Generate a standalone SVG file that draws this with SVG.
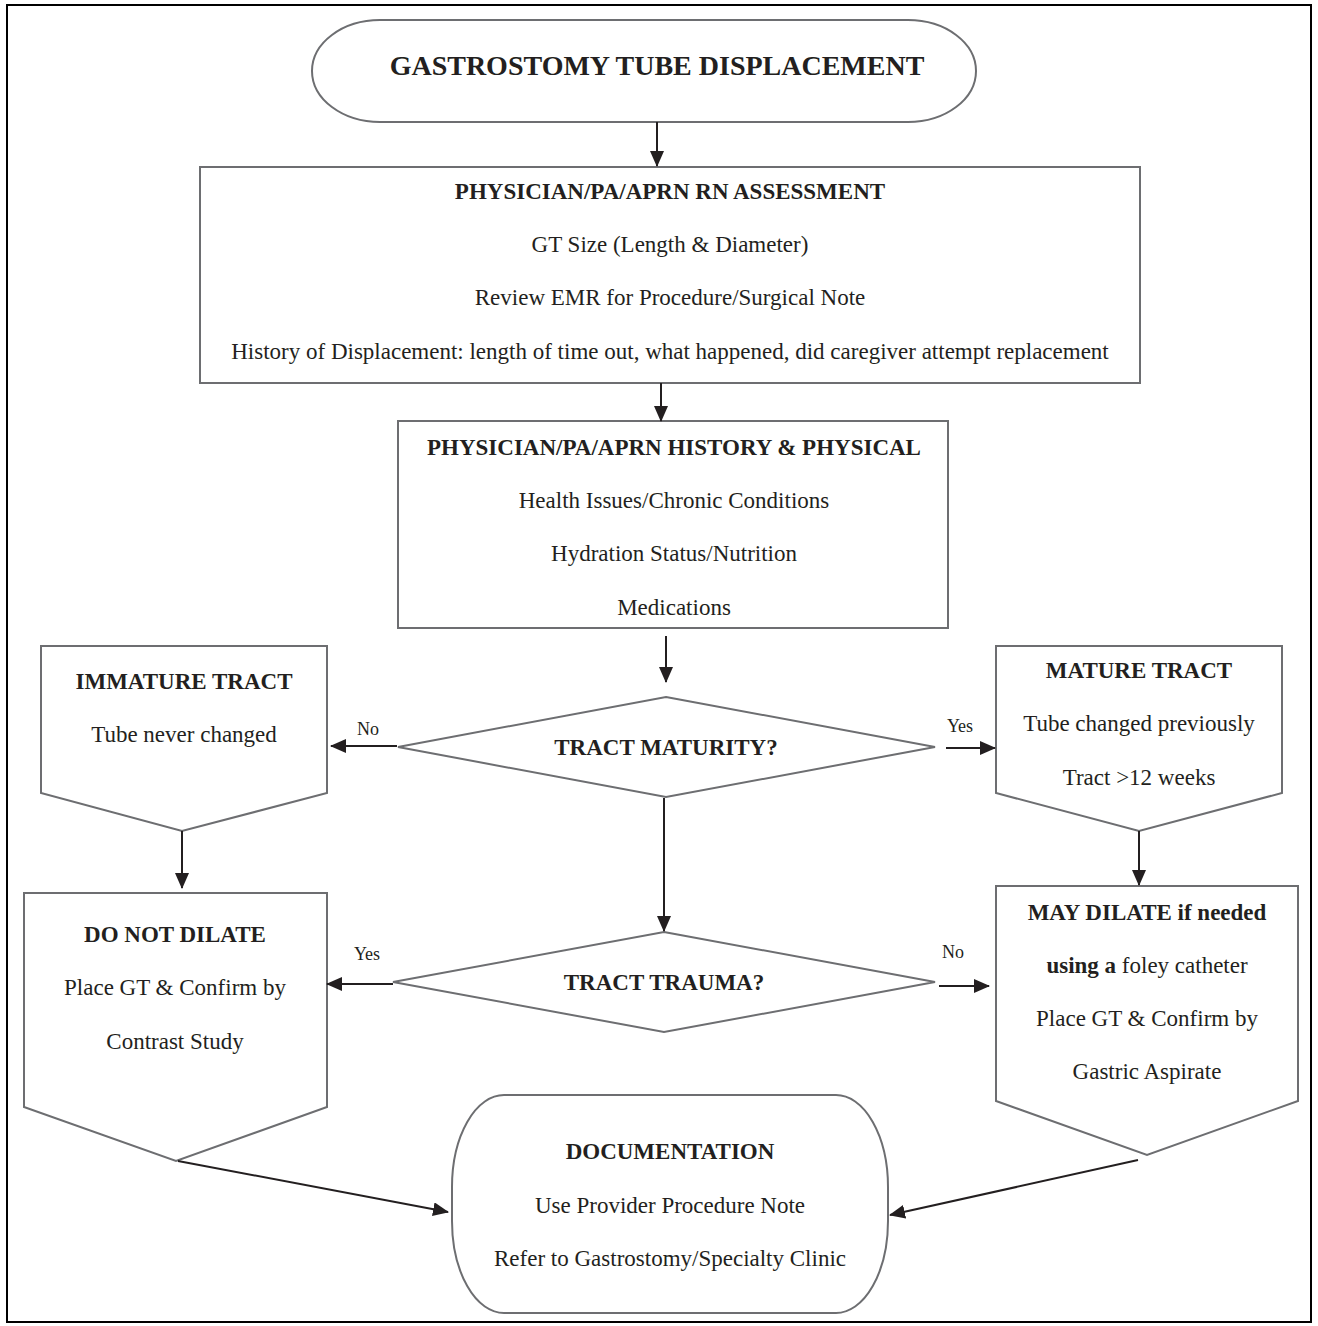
<svg xmlns="http://www.w3.org/2000/svg" width="1318" height="1326" viewBox="0 0 1318 1326">
  <defs>
    <marker id="head" markerUnits="userSpaceOnUse" markerWidth="16" markerHeight="14" viewBox="0 0 16 14" refX="15" refY="7" orient="auto">
      <path d="M0,0 L16,7 L0,14 Z" fill="#231f20"/>
    </marker>
    <style>
      .shape { fill: #ffffff; stroke: #6d6e71; stroke-width: 2; }
      .link { fill: none; stroke: #231f20; stroke-width: 2; marker-end: url(#head); }
      text { font-family: "Liberation Serif", "Times New Roman", serif; fill: #231f20; text-anchor: middle; }
      .t { font-size: 23px; }
      .b { font-size: 23px; font-weight: bold; }
      .title { font-size: 28px; font-weight: bold; }
      .lbl { font-size: 18px; }
    </style>
  </defs>

  <rect x="0" y="0" width="1318" height="1326" fill="#ffffff"/>
  <!-- page frame -->
  <rect x="7" y="5" width="1304" height="1317" fill="none" stroke="#000000" stroke-width="2"/>

  <g id="start">
    <rect class="shape" x="312" y="20" width="664" height="102" rx="68" ry="51"/>
    <text class="title" x="657" y="75">GASTROSTOMY TUBE DISPLACEMENT</text>
  </g>

  <g id="assessment">
    <rect class="shape" x="200" y="167" width="940" height="216"/>
    <text class="b" x="670" y="199">PHYSICIAN/PA/APRN RN ASSESSMENT</text>
    <text class="t" x="670" y="252">GT Size (Length &amp; Diameter)</text>
    <text class="t" x="670" y="305">Review EMR for Procedure/Surgical Note</text>
    <text class="t" x="670" y="359">History of Displacement: length of time out, what happened, did caregiver attempt replacement</text>
  </g>

  <g id="history-physical">
    <rect class="shape" x="398" y="421" width="550" height="207"/>
    <text class="b" x="674" y="455">PHYSICIAN/PA/APRN HISTORY &amp; PHYSICAL</text>
    <text class="t" x="674" y="508">Health Issues/Chronic Conditions</text>
    <text class="t" x="674" y="561">Hydration Status/Nutrition</text>
    <text class="t" x="674" y="615">Medications</text>
  </g>

  <g id="tract-maturity">
    <polygon class="shape" points="666,697 935,747 666,797 398,747"/>
    <text class="b" x="666" y="755">TRACT MATURITY?</text>
  </g>

  <g id="immature-tract">
    <path class="shape" d="M41,646 H327 V793 L182,831 L41,793 Z"/>
    <text class="b" x="184" y="689">IMMATURE TRACT</text>
    <text class="t" x="184" y="742">Tube never changed</text>
  </g>

  <g id="mature-tract">
    <path class="shape" d="M996,646 H1282 V793 L1139,831 L996,793 Z"/>
    <text class="b" x="1139" y="678">MATURE TRACT</text>
    <text class="t" x="1139" y="731">Tube changed previously</text>
    <text class="t" x="1139" y="785">Tract &gt;12 weeks</text>
  </g>

  <g id="tract-trauma">
    <polygon class="shape" points="664,932 935,982 664,1032 393,982"/>
    <text class="b" x="664" y="990">TRACT TRAUMA?</text>
  </g>

  <g id="do-not-dilate">
    <path class="shape" d="M24,893 H327 V1107 L176,1161 L24,1107 Z"/>
    <text class="b" x="175" y="942">DO NOT DILATE</text>
    <text class="t" x="175" y="995">Place GT &amp; Confirm by</text>
    <text class="t" x="175" y="1049">Contrast Study</text>
  </g>

  <g id="may-dilate">
    <path class="shape" d="M996,886 H1298 V1101 L1147,1155 L996,1101 Z"/>
    <text class="b" x="1147" y="920">MAY DILATE if needed</text>
    <text class="t" x="1147" y="973"><tspan font-weight="bold">using a</tspan> foley catheter</text>
    <text class="t" x="1147" y="1026">Place GT &amp; Confirm by</text>
    <text class="t" x="1147" y="1079">Gastric Aspirate</text>
  </g>

  <g id="documentation">
    <rect class="shape" x="452" y="1095" width="436" height="218" rx="52" ry="92"/>
    <text class="b" x="670" y="1159">DOCUMENTATION</text>
    <text class="t" x="670" y="1213">Use Provider Procedure Note</text>
    <text class="t" x="670" y="1266">Refer to Gastrostomy/Specialty Clinic</text>
  </g>

  <g id="connectors">
    <line class="link" x1="657" y1="122" x2="657" y2="166"/>
    <line class="link" x1="661" y1="383" x2="661" y2="421"/>
    <line class="link" x1="666" y1="636" x2="666" y2="682"/>
    <line class="link" x1="664" y1="798" x2="664" y2="931"/>
    <line class="link" x1="397" y1="746" x2="331" y2="746"/>
    <line class="link" x1="946" y1="748" x2="995" y2="748"/>
    <line class="link" x1="182" y1="831" x2="182" y2="888"/>
    <line class="link" x1="1139" y1="831" x2="1139" y2="885"/>
    <line class="link" x1="393" y1="984" x2="327" y2="984"/>
    <line class="link" x1="939" y1="986" x2="989" y2="986"/>
    <line class="link" x1="178" y1="1161" x2="448" y2="1212"/>
    <line class="link" x1="1138" y1="1160" x2="890" y2="1215"/>
    <text class="lbl" x="368" y="735">No</text>
    <text class="lbl" x="960" y="732">Yes</text>
    <text class="lbl" x="367" y="960">Yes</text>
    <text class="lbl" x="953" y="958">No</text>
  </g>
</svg>
